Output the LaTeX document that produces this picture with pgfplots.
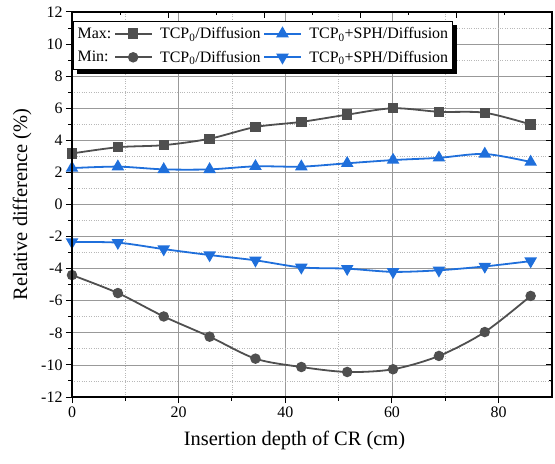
\documentclass[border=0pt]{standalone}
\usepackage{fontspec}
\setmainfont{Liberation Serif}
\usepackage{pgfplots}
\pgfplotsset{compat=1.18}
\usetikzlibrary{shadows}
\definecolor{dgray}{HTML}{4F4F4F}
\definecolor{oblue}{HTML}{1F6FDB}
\makeatletter
\tikzset{no preactions/.code={\let\tikz@preactions\pgfutil@empty}}
\makeatother

\begin{document}
\begin{tikzpicture}
\useasboundingbox (-72bp,-67bp) rectangle (483bp,397bp);
\begin{axis}[
  scale only axis, width=480bp, height=385bp,
  xmin=0, xmax=90, ymin=-12, ymax=12,
  xtick={0,20,...,80}, minor x tick num=1,
  ytick={-12,-10,...,12}, minor y tick num=1,
  xtick pos=bottom, ytick pos=left, tick align=outside,
  major tick length=6bp, minor tick length=3.5bp,
  every tick/.style={black, line width=1bp},
  grid=both,
  major grid style={black!40, line width=0.8bp},
  minor grid style={black!28, dotted, line width=0.8bp},
  axis line style={line width=1.3bp},
  tick label style={font=\fontsize{16}{18}\selectfont},
  /pgf/number format/assume math mode=true,
  xlabel={Insertion depth of CR (cm)},
  ylabel={Relative difference (\%)},
  xlabel style={at={(axis description cs:0.4635,-0.112)}, anchor=center, font=\fontsize{20.5}{24}\selectfont},
  ylabel style={at={(axis description cs:-0.104,0.5)}, anchor=center, font=\fontsize{20.5}{24}\selectfont},
  legend columns=3,
  legend style={at={(0.0015,0.977)}, anchor=north west, draw=black,
    line width=0.8bp, fill=white,
    drop shadow={shadow xshift=4bp, shadow yshift=-4bp, opacity=1, fill=black},
    font=\fontsize{16}{19}\selectfont,
    inner xsep=2.5bp, inner ysep=4bp, row sep=7bp,
    /tikz/every even column/.append style={column sep=0bp}},
  legend cell align=left,
  legend image code/.code={\path (-1bp,0bp) (42bp,0bp); \draw[no preactions, mark repeat=2, mark phase=2] plot coordinates {(0bp,0bp)(18bp,0bp)(36bp,0bp)};},
  every axis plot/.append style={line width=1.8bp, smooth, tension=0.5},
]
\addlegendimage{empty legend}
\addlegendentry{Max:}
\addplot[dgray, mark=square*, mark size=4.3bp, mark options={solid}] coordinates {
  (0,3.18)(8.6,3.57)(17.2,3.7)(25.8,4.1)(34.4,4.83)(43,5.15)(51.6,5.6)(60.2,6.0)(68.8,5.78)(77.4,5.72)(86,4.99)
};
\addlegendentry{TCP\textsubscript{0}/Diffusion}
\addplot[oblue, mark=triangle*, mark size=5.5bp, mark options={solid}] coordinates {
  (0,2.27)(8.6,2.36)(17.2,2.19)(25.8,2.19)(34.4,2.38)(43,2.36)(51.6,2.57)(60.2,2.77)(68.8,2.91)(77.4,3.15)(86,2.65)
};
\addlegendentry{TCP\textsubscript{0}+SPH/Diffusion}
\addlegendimage{empty legend}
\addlegendentry{Min:}
\addplot[dgray, mark=*, mark size=4.3bp, mark options={solid}] coordinates {
  (0,-4.4)(8.6,-5.52)(17.2,-6.98)(25.8,-8.24)(34.4,-9.61)(43,-10.13)(51.6,-10.44)(60.2,-10.27)(68.8,-9.44)(77.4,-7.95)(86,-5.7)
};
\addlegendentry{TCP\textsubscript{0}/Diffusion}
\addplot[oblue, mark=triangle*, mark size=5.5bp, mark options={solid, rotate=180}] coordinates {
  (0,-2.34)(8.6,-2.38)(17.2,-2.78)(25.8,-3.15)(34.4,-3.48)(43,-3.92)(51.6,-4.0)(60.2,-4.2)(68.8,-4.1)(77.4,-3.86)(86,-3.53)
};
\addlegendentry{TCP\textsubscript{0}+SPH/Diffusion}
\end{axis}
\begin{axis}[
  scale only axis, width=480bp, height=385bp,
  xmin=0, xmax=100, ymin=-12, ymax=12,
  xtick={0,20,...,100}, minor x tick num=1,
  ytick={-12,-10,...,12}, minor y tick num=1,
  xtick pos=top, ytick pos=right, tick align=inside,
  xticklabels={}, yticklabels={},
  major tick length=6bp, minor tick length=3.5bp,
  every tick/.style={black, line width=1bp},
  axis line style={line width=1.3bp},
]
\end{axis}
\end{tikzpicture}
\end{document}
